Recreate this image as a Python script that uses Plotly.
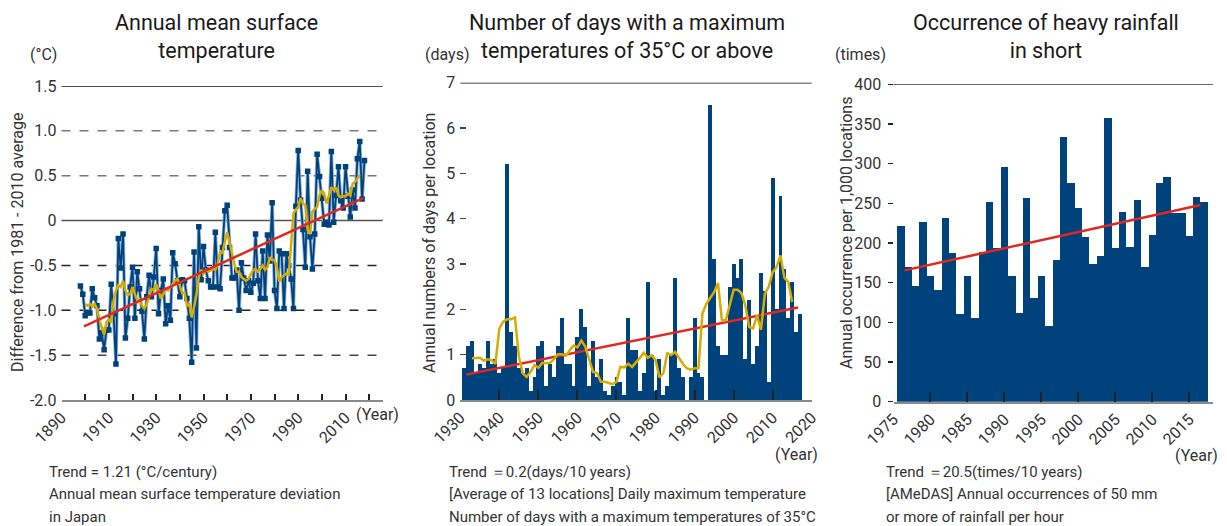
import plotly.graph_objects as go

W, H = 1227, 526
FONT = "Roboto"

# ---------------- Left: annual mean surface temperature anomaly ----------------
temp_years = list(range(1898, 2019))
temp_anom = [
    -0.73, -0.82, -1.06, -1.03, -1.03, -0.76, -0.86, -0.95, -1.32, -1.25,   # 1898-1907
    -1.44, -1.22, -1.22, -0.71, -1.04, -1.60, -0.20, -0.53, -0.15, -1.31,   # 1908-1917
    -1.09, -0.74, -0.52, -1.09, -0.57, -0.76, -1.01, -1.32, -0.85, -0.61,   # 1918-1927
    -0.85, -0.63, -0.31, -1.04, -0.78, -0.65, -1.15, -0.95, -1.11, -0.36,   # 1928-1937
    -0.48, -0.67, -0.85, -0.66, -0.67, -0.87, -1.09, -1.58, -0.35, -1.42,   # 1938-1947
    -0.07, -0.66, -0.29, -0.55, -0.67, -0.74, -0.74, -0.13, -0.74, -0.76,   # 1948-1957
    -0.30, 0.11, 0.17, -0.30, -0.64, -0.64, -0.55, -1.00, -0.47, -0.64,     # 1958-1967
    -0.78, -0.67, -0.80, -0.70, -0.15, -0.67, -0.87, -0.34, -0.87, -0.16,   # 1968-1977
    -0.45, 0.20, -0.78, -0.98, -0.34, -0.37, -0.98, -0.37, -0.50, -0.65,    # 1978-1987
    -0.98, 0.16, 0.78, 0.23, -0.10, -0.52, 0.55, -0.18, -0.54, -0.15,       # 1988-1997
    0.74, 0.49, 0.25, -0.04, -0.02, -0.05, 0.77, -0.02, 0.28, 0.60,         # 1998-2007
    0.22, 0.14, 0.60, 0.27, 0.04, 0.34, 0.14, 0.69, 0.88, 0.24, 0.67,       # 2008-2018
]
temp_ma_years = list(range(1900, 2017))
temp_ma = [
    -0.93, -0.95, -0.93, -0.96, -0.93, -0.98, -1.11, -1.19, -1.27, -1.13,   # 1900-1909
    -1.10, -1.14, -0.89, -0.78, -0.72, -0.74, -0.67, -0.78, -0.83, -0.82,   # 1910-1919
    -0.74, -0.82, -0.89, -0.88, -0.95, -0.98, -0.93, -0.85, -0.76, -0.78,   # 1920-1929
    -0.71, -0.78, -0.87, -0.82, -0.76, -0.78, -0.74, -0.70, -0.67, -0.65,   # 1930-1939
    -0.74, -0.81, -0.80, -0.95, -0.93, -1.08, -0.96, -0.83, -0.63, -0.55,   # 1940-1949
    -0.59, -0.55, -0.57, -0.55, -0.54, -0.55, -0.48, -0.35, -0.36, -0.24,   # 1950-1959
    -0.13, -0.24, -0.37, -0.48, -0.57, -0.57, -0.63, -0.65, -0.67, -0.65,   # 1960-1969
    -0.60, -0.55, -0.54, -0.57, -0.54, -0.50, -0.55, -0.52, -0.41, -0.44,   # 1970-1979
    -0.44, -0.52, -0.68, -0.63, -0.61, -0.59, -0.61, -0.29, 0.08, 0.12,     # 1980-1989
    0.15, 0.25, 0.19, 0.17, -0.11, -0.15, 0.10, 0.13, 0.15, 0.28,           # 1990-1999
    0.34, 0.30, 0.19, 0.28, 0.37, 0.34, 0.37, 0.28, 0.26, 0.27,             # 2000-2009
    0.27, 0.30, 0.28, 0.41, 0.43, 0.47, 0.51,                               # 2010-2016
]
temp_trend_years = [1899.5, 2017.5]
temp_trend_vals = [-1.18, 0.25]

# ---------------- Middle: days with max temperature >= 35 C ----------------
hot_years = list(range(1931, 2018))
hot_days = [
    0.7, 1.2, 1.3, 0.6, 0.8, 0.7, 1.3, 0.8, 0.9, 0.6,      # 1931-1940
    0.7, 5.2, 1.5, 1.2, 0.7, 0.6, 0.7, 0.2, 0.5, 1.2,      # 1941-1950
    1.3, 0.3, 0.8, 0.5, 1.2, 1.8, 0.8, 0.8, 0.3, 1.4,      # 1951-1960
    2.0, 1.6, 0.3, 1.3, 0.5, 0.9, 0.2, 0.1, 0.3, 0.5,      # 1961-1970
    0.4, 0.1, 1.8, 1.1, 1.1, 0.2, 0.6, 2.6, 1.0, 0.2,      # 1971-1980
    0.9, 0.1, 0.3, 1.0, 2.7, 0.7, 0.5, 0.0, 0.5, 1.8,      # 1981-1990
    0.6, 0.5, 0.0, 6.5, 3.1, 1.2, 1.0, 1.0, 2.5, 3.0,      # 1991-2000
    2.7, 3.1, 0.9, 2.2, 0.8, 1.2, 2.8, 2.4, 0.4, 4.9,      # 2001-2010
    2.0, 4.5, 2.9, 1.8, 2.6, 1.5, 1.9,                     # 2011-2017
]
hot_ma_years = list(range(1933, 2016))
hot_ma = [
    0.92, 0.93, 0.93, 0.87, 0.90, 0.88, 0.80, 1.58, 1.73, 1.78,   # 1933-1942
    1.78, 1.82, 0.96, 0.59, 0.51, 0.62, 0.77, 0.71, 0.82, 0.81,   # 1943-1952
    0.82, 0.90, 1.01, 1.01, 0.97, 1.09, 1.20, 1.16, 1.31, 1.18,   # 1953-1962
    0.92, 0.62, 0.60, 0.40, 0.40, 0.38, 0.35, 0.40, 0.73, 0.72,   # 1963-1972
    0.80, 0.73, 0.82, 0.93, 1.04, 0.93, 0.99, 0.88, 0.50, 0.59,   # 1973-1982
    1.03, 0.99, 1.06, 0.93, 0.80, 0.70, 0.67, 0.70, 0.70, 1.90,   # 1983-1992
    2.12, 2.25, 2.38, 2.58, 1.76, 1.76, 2.12, 2.43, 2.43, 2.36,   # 1993-2002
    2.09, 1.61, 1.58, 1.87, 1.55, 2.34, 2.50, 2.82, 2.93, 3.19,   # 2003-2012
    2.70, 2.60, 2.16,                                             # 2013-2015
]
hot_trend_years = [1931.5, 2016.5]
hot_trend_vals = [0.56, 2.04]

# ---------------- Right: heavy rainfall occurrences ----------------
rain_years = list(range(1976, 2018))
rain_counts = [
    221, 170, 146, 226, 158, 141, 232, 188, 111, 158,   # 1976-1985
    105, 189, 252, 194, 296, 158, 112, 257, 131, 158,   # 1986-1995
    95, 179, 333, 276, 244, 207, 174, 183, 358, 194,    # 1996-2005
    239, 195, 254, 170, 210, 276, 283, 238, 238, 209,   # 2006-2015
    258, 252,                                           # 2016-2017
]
rain_trend_years = [1976.5, 2016.5]
rain_trend_vals = [165.5, 248.0]

# ---------------- colours ----------------
BLUE = "#00427c"
BLUE_HALO = "#8fb0d6"
GOLD = "#d6ac00"
RED = "#e0281e"
TXT = "#2a2a2a"

def px_x(p):
    return p / W

def px_y(p):
    return 1 - p / H

fig = go.Figure()

# Left traces
fig.add_trace(go.Scatter(x=temp_years, y=temp_anom, mode="lines",
                         line=dict(color=BLUE_HALO, width=3.5), xaxis="x", yaxis="y",
                         hoverinfo="skip", showlegend=False))
fig.add_trace(go.Scatter(x=temp_years, y=temp_anom, mode="lines+markers",
                         line=dict(color=BLUE, width=1.8),
                         marker=dict(symbol="square", size=5.5, color=BLUE),
                         xaxis="x", yaxis="y", showlegend=False))
fig.add_trace(go.Scatter(x=temp_ma_years, y=temp_ma, mode="lines",
                         line=dict(color=GOLD, width=2.5), xaxis="x", yaxis="y", showlegend=False))
fig.add_trace(go.Scatter(x=temp_trend_years, y=temp_trend_vals, mode="lines",
                         line=dict(color=RED, width=2.5), xaxis="x", yaxis="y", showlegend=False))

# Middle traces
fig.add_trace(go.Bar(x=hot_years, y=hot_days, width=1.0, marker=dict(color=BLUE, line=dict(width=0)),
                     xaxis="x2", yaxis="y2", showlegend=False))
fig.add_trace(go.Scatter(x=hot_trend_years, y=hot_trend_vals, mode="lines",
                         line=dict(color=RED, width=2.5), xaxis="x2", yaxis="y2", showlegend=False))
fig.add_trace(go.Scatter(x=hot_ma_years, y=hot_ma, mode="lines",
                         line=dict(color=GOLD, width=2.5), xaxis="x2", yaxis="y2", showlegend=False))

# Right traces
fig.add_trace(go.Bar(x=rain_years, y=rain_counts, width=1.0, marker=dict(color=BLUE, line=dict(width=0)),
                     xaxis="x3", yaxis="y3", showlegend=False))
fig.add_trace(go.Scatter(x=rain_trend_years, y=rain_trend_vals, mode="lines",
                         line=dict(color=RED, width=2.5), xaxis="x3", yaxis="y3", showlegend=False))

tickfont = dict(family=FONT, size=16, color="#333333")

xcommon = dict(showgrid=False, zeroline=False, showline=True, linecolor="#8a8a8a", linewidth=2,
               ticks="inside", tickcolor="#222222", tickwidth=2, tickangle=-45, tickfont=tickfont,
               fixedrange=True, automargin=False)
ycommon = dict(showgrid=False, zeroline=False, showline=False, tickfont=tickfont, fixedrange=True,
               automargin=False)

fig.update_layout(
    width=W, height=H, autosize=False,
    margin=dict(l=0, r=0, t=0, b=0, pad=0, autoexpand=False),
    paper_bgcolor="white", plot_bgcolor="white",
    bargap=0, barmode="overlay", showlegend=False,
    font=dict(family=FONT, color=TXT),
    xaxis=dict(xcommon, domain=[px_x(61.5), px_x(382.7)], range=[1890, 2025.7],
               tick0=1890, dtick=20, ticklen=6,
               minor=dict(dtick=10, tick0=1890, ticks="inside", ticklen=6, tickcolor="#222222", tickwidth=2),
               anchor="y"),
    yaxis=dict(ycommon, domain=[px_y(400), px_y(86)], range=[-2.0, 1.5],
               tickvals=[-2.0, -1.5, -1.0, -0.5, 0, 0.5, 1.0, 1.5],
               ticktext=["-2.0", "-1.5", "-1.0", "-0.5", "0", "0.5", "1.0", "1.5"],
               ticks="", ticklabelstandoff=4, anchor="x"),
    xaxis2=dict(xcommon, domain=[px_x(460.3), px_x(811.7)], range=[1930, 2020],
                tick0=1930, dtick=10, ticklen=10, anchor="y2"),
    yaxis2=dict(ycommon, domain=[px_y(400), px_y(82.7)], range=[0, 7], dtick=1,
                ticks="inside", ticklen=6, tickcolor="#444444", tickwidth=1.5,
                ticklabelstandoff=4, anchor="x2"),
    xaxis3=dict(xcommon, domain=[px_x(893.5), px_x(1213)], range=[1975, 2018.2],
                tick0=1975, dtick=5, ticklen=10, anchor="y3"),
    yaxis3=dict(ycommon, domain=[px_y(401.7), px_y(84.3)], range=[0, 400], dtick=50,
                ticks="outside", ticklen=5, tickcolor="#222222", tickwidth=1.5,
                ticklabelstandoff=3, anchor="x3"),
)

# Reference lines (horizontal)
shapes = []
for v, col, dash, wd in [(1.5, "#111111", "solid", 1.5), (1.0, "#777777", "dash", 1.5),
                         (0.5, "#777777", "dash", 1.5), (0.0, "#555555", "solid", 1.5),
                         (-0.5, "#222222", "dash", 1.5), (-1.0, "#222222", "dash", 1.5),
                         (-1.5, "#444444", "dash", 1.5)]:
    shapes.append(dict(type="line", xref="x domain", yref="y", x0=0, x1=1, y0=v, y1=v,
                       line=dict(color=col, width=wd, dash=dash), layer="below"))
shapes.append(dict(type="line", xref="x2 domain", yref="y2", x0=0, x1=1, y0=7, y1=7,
                   line=dict(color="#111111", width=1.5), layer="below"))
shapes.append(dict(type="line", xref="x3 domain", yref="y3", x0=0, x1=1, y0=400, y1=400,
                   line=dict(color="#333333", width=1.5), layer="below"))
fig.update_layout(shapes=shapes)

ann = []

def text(x, y, s, size=15, xanchor="left", yanchor="middle", angle=0, color=TXT, align="left"):
    ann.append(dict(x=px_x(x), y=px_y(y), xref="paper", yref="paper", text=s, showarrow=False,
                    xanchor=xanchor, yanchor=yanchor, textangle=angle, align=align,
                    font=dict(family=FONT, size=size, color=color)))

# Titles
text(216, 36, "Annual mean surface<br>temperature", size=21.5, xanchor="center", align="center", color="#1a1a1a")
text(627, 36, "Number of days with a maximum<br>temperatures of 35°C or above", size=21.5, xanchor="center", align="center", color="#1a1a1a")
text(1046, 36, "Occurrence of heavy rainfall<br>in short", size=21.5, xanchor="center", align="center", color="#1a1a1a")

# Units
text(28, 55, "(°C)", size=16, color="#333333")
text(423, 55, "(days)", size=16, color="#333333")
text(833, 55, "(times)", size=16, color="#333333")

# Y-axis titles
text(17, 243, "Difference from 1981 - 2010 average", size=16, xanchor="center", angle=-90, color="#333333")
text(429, 243, "Annual numbers of days per location", size=16, xanchor="center", angle=-90, color="#333333")
text(846, 233, "Annual occurrence per 1,000 locations", size=16, xanchor="center", angle=-90, color="#333333")

# (Year)
text(354, 414, "(Year)", size=16, color="#333333")
text(773, 454, "(Year)", size=16, color="#333333")
text(1173, 455, "(Year)", size=16, color="#333333")

# Notes
for x0, lines in [(46.5, ["Trend = 1.21 (°C/century)", "Annual mean surface temperature deviation", "in Japan"]),
                  (447, ["Trend ＝0.2(days/10 years)", "[Average of 13 locations] Daily maximum temperature",
                         "Number of days with a maximum temperatures of 35°C"]),
                  (884, ["Trend ＝20.5(times/10 years)", "[AMeDAS] Annual occurrences of 50 mm",
                         "or more of rainfall per hour"])]:
    for i, s in enumerate(lines):
        text(x0, 471.5 + 22.5 * i, s, size=15, color="#333333")

fig.update_layout(annotations=ann)

fig.write_html("out.html",
               config={"displayModeBar": False, "staticPlot": True},
               post_script="document.body.style.margin='0px';document.body.style.overflow='hidden';")
